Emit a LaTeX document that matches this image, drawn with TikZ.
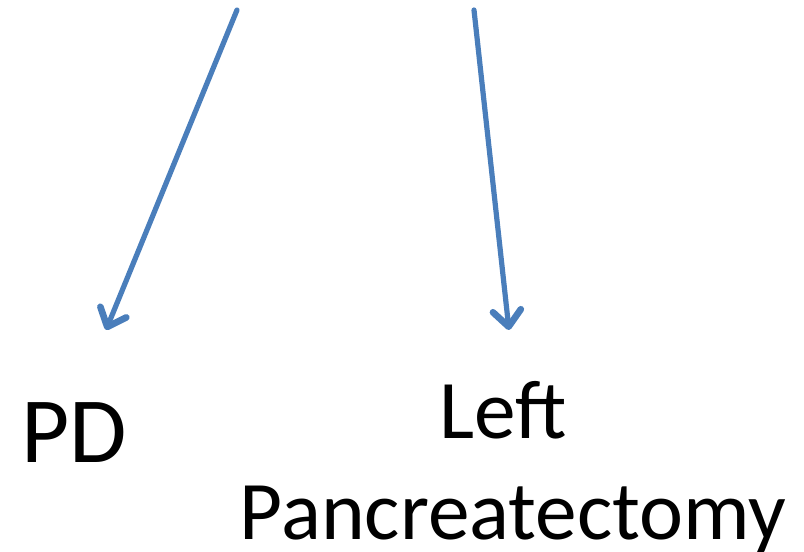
\documentclass[tikz,border=0pt]{standalone}
\usepackage{fontspec}
\setmainfont{Carlito}
\usetikzlibrary{arrows.meta}
\definecolor{arrowblue}{HTML}{4A7EBB}
\tikzset{
  conn/.style={draw=arrowblue, line width=3.9pt, line cap=round,
    -{Straight Barb[length=12pt, width=21pt, line width=5pt, line cap=round, line join=round]}},
  biglabel/.style={inner sep=0pt, font=\fontsize{70pt}{72pt}\selectfont},
  label/.style={inner sep=0pt, font=\fontsize{62.5pt}{75.75pt}\selectfont}
}
\begin{document}
\begin{tikzpicture}[x=0.75pt, y=-0.75pt]
\useasboundingbox (0,0) rectangle (804,552);
\coordinate (s1) at (237,10);
\coordinate (e1) at (106,330);
\coordinate (s2) at (474,10);
\coordinate (e2) at (509,330);
\draw[conn] (s1) -- (e1);
\draw[conn] (s2) -- (e2);
\node[biglabel, anchor=base west] (pd) at (21,463) {PD};
\node[label, anchor=base, align=center] (lp) at (513,539) {\mbox{Left\kern0.23em}\\Pancreatectomy};
\end{tikzpicture}
\end{document}
